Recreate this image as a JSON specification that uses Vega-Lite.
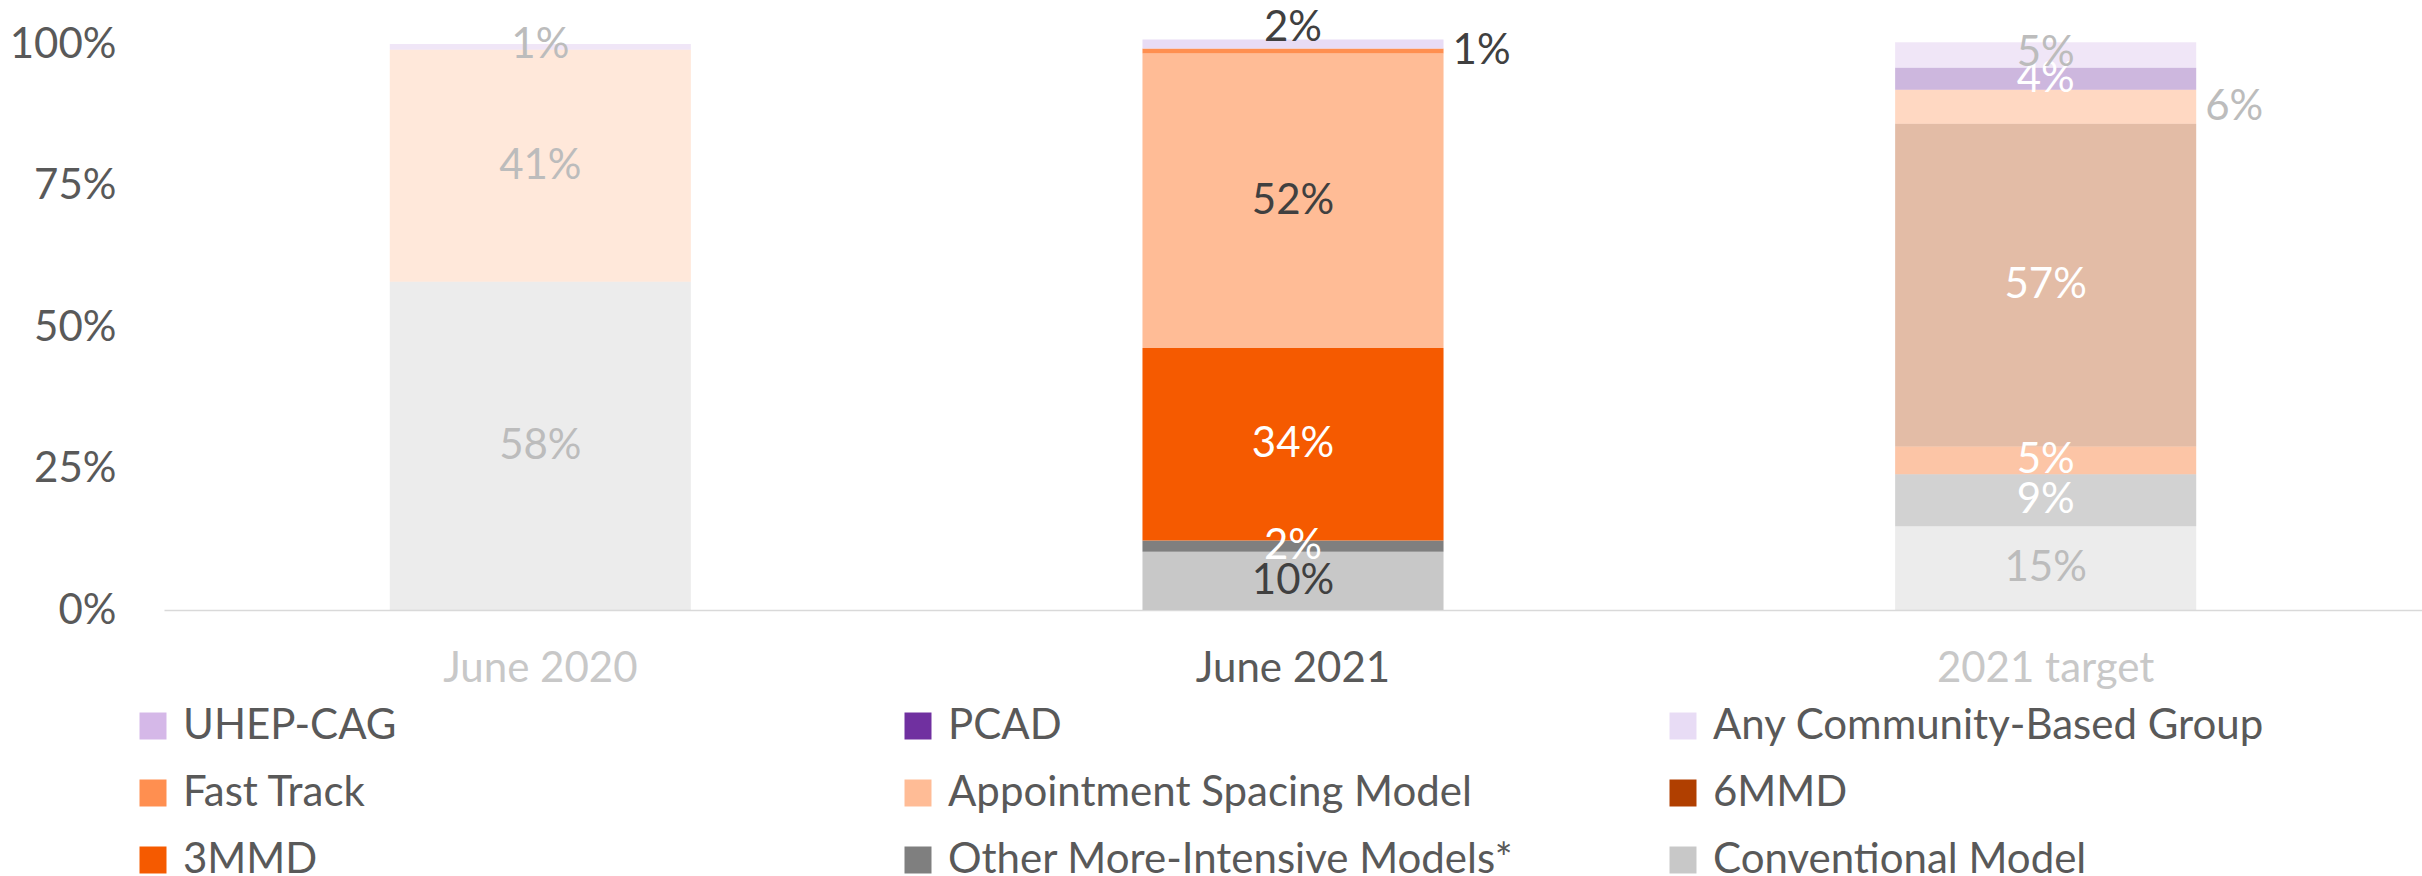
{
  "$schema": "https://vega.github.io/schema/vega-lite/v6.json",
  "width": 2258,
  "height": 566,
  "autosize": {"type": "none"},
  "padding": {"left": 164, "top": 44, "right": 0, "bottom": 266},
  "background": "white",
  "config": {
    "view": {"stroke": null},
    "font": "Lato",
    "axis": {"title": null, "labelFont": "Lato", "labelFontSize": 42, "labelColor": "#595959", "ticks": false, "grid": false, "labelLimit": 0},
    "axisY": {"domain": false, "labelPadding": 48},
    "axisX": {"domainColor": "#D9D9D9", "domainWidth": 1.5, "labelPadding": 38, "labelAngle": 0}
  },
  "data": {
    "values": [
      {"period": "June 2020", "series": "Conventional Model", "k": 1, "share": 0.58},
      {"period": "June 2020", "series": "Appointment Spacing Model", "k": 5, "share": 0.41},
      {"period": "June 2020", "series": "UHEP-CAG", "k": 9, "share": 0.01},
      {"period": "June 2021", "series": "Conventional Model", "k": 1, "share": 0.103},
      {"period": "June 2021", "series": "Other More-Intensive Models*", "k": 2, "share": 0.02},
      {"period": "June 2021", "series": "3MMD", "k": 3, "share": 0.34},
      {"period": "June 2021", "series": "Appointment Spacing Model", "k": 5, "share": 0.52},
      {"period": "June 2021", "series": "Fast Track", "k": 6, "share": 0.009},
      {"period": "June 2021", "series": "Any Community-Based Group", "k": 7, "share": 0.016},
      {"period": "2021 target", "series": "Conventional Model", "k": 1, "share": 0.148},
      {"period": "2021 target", "series": "Other More-Intensive Models*", "k": 2, "share": 0.092},
      {"period": "2021 target", "series": "3MMD", "k": 3, "share": 0.049},
      {"period": "2021 target", "series": "6MMD", "k": 4, "share": 0.57},
      {"period": "2021 target", "series": "Fast Track", "k": 6, "share": 0.06},
      {"period": "2021 target", "series": "PCAD", "k": 8, "share": 0.039},
      {"period": "2021 target", "series": "UHEP-CAG", "k": 9, "share": 0.045}
    ]
  },
  "layer": [
    {
      "mark": {"type": "bar"},
      "encoding": {
        "x": {"field": "period", "type": "nominal", "sort": ["June 2020", "June 2021", "2021 target"], "scale": {"paddingInner": 0.6, "paddingOuter": 0.3}, "axis": {"labelColor": {"expr": "datum.value === 'June 2021' ? '#595959' : '#C8C8C8'"}}},
        "y": {"field": "share", "type": "quantitative", "stack": "zero", "scale": {"domain": [0, 1], "nice": false}, "axis": {"values": [0, 0.25, 0.5, 0.75, 1], "format": ".0%"}},
        "order": {"field": "k", "type": "quantitative"},
        "color": {
          "field": "series", "type": "nominal",
          "scale": {
            "domain": ["UHEP-CAG", "Fast Track", "3MMD", "PCAD", "Appointment Spacing Model", "Other More-Intensive Models*", "Any Community-Based Group", "6MMD", "Conventional Model"],
            "range": ["#D5B8E8", "#FF8F50", "#F55A00", "#7030A0", "#FFBC96", "#7F7F7F", "#E8DCF5", "#B03F00", "#C8C8C8"]
          },
          "legend": {
            "orient": "none", "legendX": -32, "legendY": 661, "columns": 3, "gridAlign": "all",
            "columnPadding": 148, "rowPadding": 25, "symbolType": "square", "symbolSize": 729,
            "symbolStrokeWidth": 0, "symbolOpacity": 1, "labelFont": "Lato", "labelFontSize": 42, "labelColor": "#595959",
            "labelOffset": 9, "title": null, "padding": 0, "labelLimit": 0
          }
        },
        "opacity": {"condition": {"test": "datum.period !== 'June 2021'", "value": 0.35}, "value": 1}
      }
    },
    {
      "mark": {"type": "text", "font": "Lato", "fontSize": 42},
      "encoding": {
        "x": {"field": "period", "type": "nominal", "sort": ["June 2020", "June 2021", "2021 target"], "scale": {"paddingInner": 0.6, "paddingOuter": 0.3}, "axis": {"labelColor": {"expr": "datum.value === 'June 2021' ? '#595959' : '#C8C8C8'"}}},
        "y": {"field": "share", "type": "quantitative", "stack": "zero", "bandPosition": 0.5, "scale": {"domain": [0, 1], "nice": false}, "axis": {"values": [0, 0.25, 0.5, 0.75, 1], "format": ".0%"}},
        "order": {"field": "k", "type": "quantitative"},
        "detail": {"field": "series", "type": "nominal"},
        "text": {"condition": {"test": "indexof(['Fast Track', 'UHEP-CAG', 'Any Community-Based Group'], datum.series) < 0", "field": "share", "type": "quantitative", "format": ".0%"}, "value": ""},
        "color": {"condition": [
          {"test": "indexof(['Other More-Intensive Models*', '3MMD', '6MMD', 'PCAD'], datum.series) >= 0", "value": "#FFFFFF"},
          {"test": "datum.period === 'June 2021'", "value": "#404040"}
        ], "value": "#BCBCBC"}
      }
    },
    {
      "mark": {"type": "text", "font": "Lato", "fontSize": 42, "dy": -2},
      "encoding": {
        "x": {"field": "period", "type": "nominal", "sort": ["June 2020", "June 2021", "2021 target"], "scale": {"paddingInner": 0.6, "paddingOuter": 0.3}, "axis": {"labelColor": {"expr": "datum.value === 'June 2021' ? '#595959' : '#C8C8C8'"}}},
        "y": {"field": "share", "type": "quantitative", "stack": "zero", "bandPosition": 0.5, "scale": {"domain": [0, 1], "nice": false}, "axis": {"values": [0, 0.25, 0.5, 0.75, 1], "format": ".0%"}},
        "order": {"field": "k", "type": "quantitative"},
        "detail": {"field": "series", "type": "nominal"},
        "text": {"condition": {"test": "datum.series === 'UHEP-CAG'", "field": "share", "type": "quantitative", "format": ".0%"}, "value": ""},
        "color": {"condition": {"test": "datum.period === 'June 2021'", "value": "#404040"}, "value": "#BCBCBC"}
      }
    },
    {
      "mark": {"type": "text", "font": "Lato", "fontSize": 42, "dy": -16},
      "encoding": {
        "x": {"field": "period", "type": "nominal", "sort": ["June 2020", "June 2021", "2021 target"], "scale": {"paddingInner": 0.6, "paddingOuter": 0.3}, "axis": {"labelColor": {"expr": "datum.value === 'June 2021' ? '#595959' : '#C8C8C8'"}}},
        "y": {"field": "share", "type": "quantitative", "stack": "zero", "bandPosition": 0.5, "scale": {"domain": [0, 1], "nice": false}, "axis": {"values": [0, 0.25, 0.5, 0.75, 1], "format": ".0%"}},
        "order": {"field": "k", "type": "quantitative"},
        "detail": {"field": "series", "type": "nominal"},
        "text": {"condition": {"test": "datum.series === 'Any Community-Based Group'", "field": "share", "type": "quantitative", "format": ".0%"}, "value": ""},
        "color": {"condition": {"test": "datum.period === 'June 2021'", "value": "#404040"}, "value": "#BCBCBC"}
      }
    },
    {
      "mark": {"type": "text", "font": "Lato", "fontSize": 42, "align": "left", "dx": 9},
      "encoding": {
        "x": {"field": "period", "type": "nominal", "bandPosition": 1, "sort": ["June 2020", "June 2021", "2021 target"], "scale": {"paddingInner": 0.6, "paddingOuter": 0.3}, "axis": {"labelColor": {"expr": "datum.value === 'June 2021' ? '#595959' : '#C8C8C8'"}}},
        "y": {"field": "share", "type": "quantitative", "stack": "zero", "bandPosition": 0.5, "scale": {"domain": [0, 1], "nice": false}, "axis": {"values": [0, 0.25, 0.5, 0.75, 1], "format": ".0%"}},
        "order": {"field": "k", "type": "quantitative"},
        "detail": {"field": "series", "type": "nominal"},
        "text": {"condition": {"test": "datum.series === 'Fast Track'", "field": "share", "type": "quantitative", "format": ".0%"}, "value": ""},
        "color": {"condition": {"test": "datum.period === 'June 2021'", "value": "#404040"}, "value": "#BCBCBC"}
      }
    }
  ]
}
